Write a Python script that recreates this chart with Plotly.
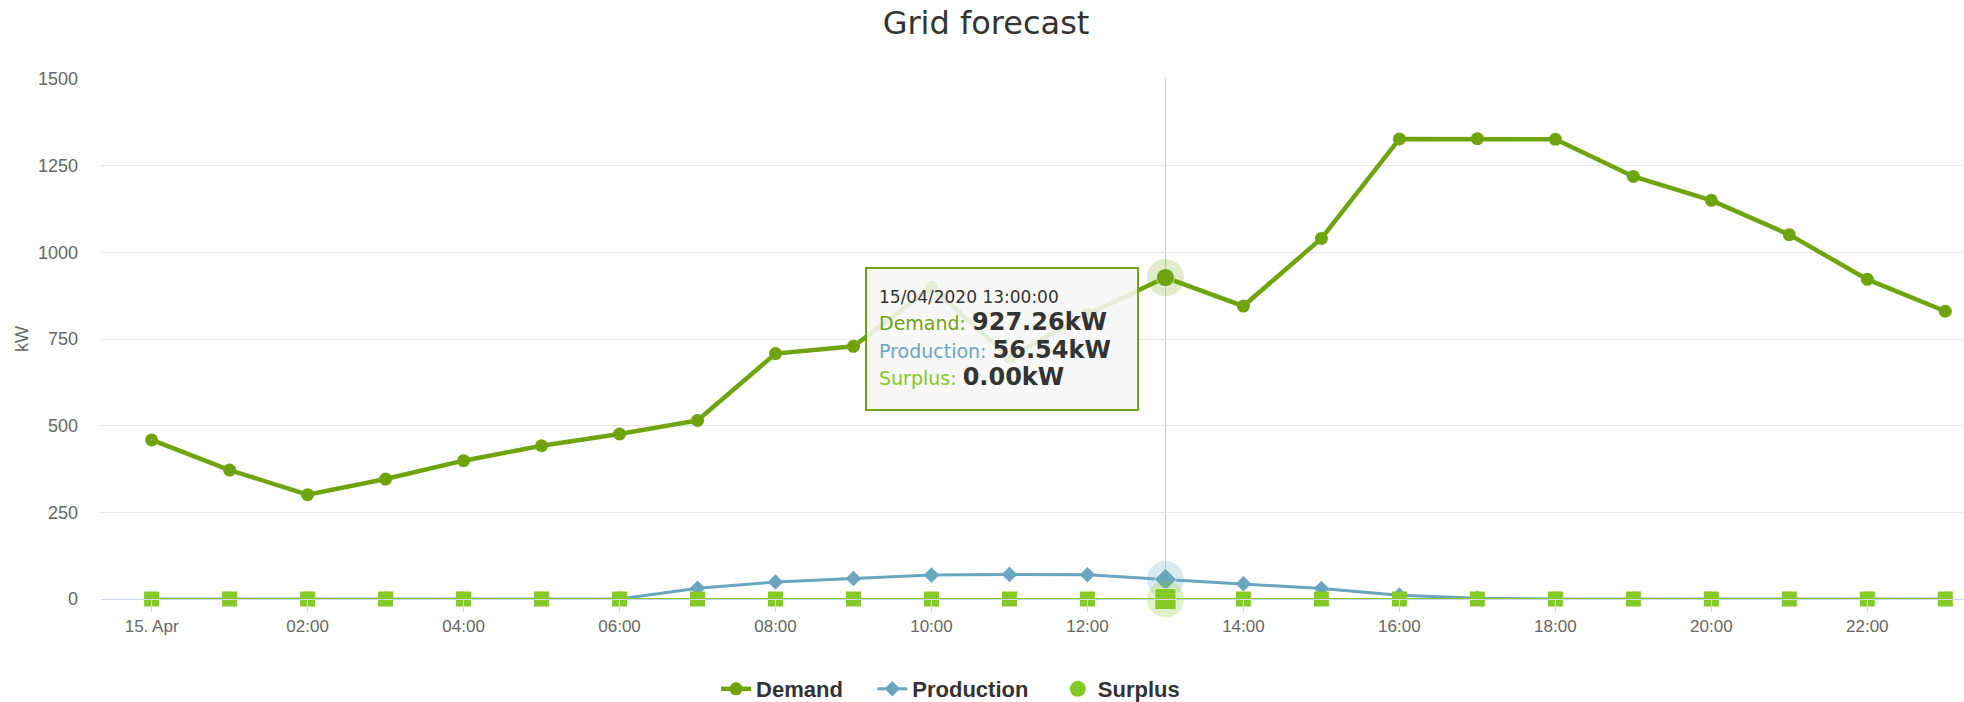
import plotly.graph_objects as go

# ---------------- data ----------------
hours = [0, 1, 2, 3, 4, 5, 6, 7, 8, 9, 10, 11, 12, 13, 14, 15, 16, 17, 18, 19, 20, 21, 22, 23]
demand = [459, 372, 301, 346, 399, 442, 476, 515, 708, 729, 899, 697, 821, 927.26,
          845, 1040, 1327, 1328, 1326, 1219, 1150, 1051, 922, 830]
production = [0, 0, 0, 0, 0, 0, 0, 31, 49, 59, 69, 71, 70, 56.54,
              44, 30, 11, 2, 0, 0, 0, 0, 0, 0]
surplus = [0, 0, 0, 0, 0, 0, 0, 0, 0, 0, 0, 0, 0, 0, 0, 0, 0, 0, 0, 0, 0, 0, 0, 0]
x_tickvals = [0, 2, 4, 6, 8, 10, 12, 14, 16, 18, 20, 22]
x_ticktext = ["15. Apr", "02:00", "04:00", "06:00", "08:00", "10:00",
              "12:00", "14:00", "16:00", "18:00", "20:00", "22:00"]
y_tickvals = [0, 250, 500, 750, 1000, 1250, 1500]
hover_index = 13
hover_label = "15/04/2020 13:00:00"

# ---------------- style ----------------
DEMAND = "#70a40e"
PROD = "#6ba6c1"
SURPLUS = "#84c925"
TICKFONT = "Liberation Sans Narrow, Liberation Sans, Arial, sans-serif"
PAD = "\u00a0" * 4

fig = go.Figure()

# crosshair at hovered x
hx = hours[hover_index]
fig.add_shape(type="line", xref="x", yref="paper", x0=hx, x1=hx, y0=0, y1=1,
              line=dict(color="#c8c8c8", width=1), layer="below")

fig.add_trace(go.Scatter(x=hours, y=demand, name="Demand" + PAD, mode="lines+markers",
                         line=dict(color=DEMAND, width=4.5),
                         marker=dict(symbol="circle", size=13, color=DEMAND),
                         cliponaxis=False))
fig.add_trace(go.Scatter(x=hours, y=production, name="Production" + PAD, mode="lines+markers",
                         line=dict(color=PROD, width=3),
                         marker=dict(symbol="diamond", size=12, color=PROD),
                         cliponaxis=False))
fig.add_trace(go.Scatter(x=hours, y=surplus, name="Surplus", mode="lines+markers",
                         line=dict(color=SURPLUS, width=2),
                         marker=dict(symbol="square", size=15, color=SURPLUS),
                         showlegend=False, cliponaxis=False))
# legend entry for Surplus (circle symbol only)
fig.add_trace(go.Scatter(x=[None], y=[None], name="Surplus", mode="markers",
                         marker=dict(symbol="circle", size=20, color=SURPLUS)))

# hover halos + enlarged hovered markers
for vals, col, halo, sym, sz in [
    (demand, DEMAND, "rgba(112,164,14,0.22)", "circle", 18),
    (production, PROD, "rgba(107,166,193,0.25)", "diamond", 17),
    (surplus, SURPLUS, "rgba(132,201,37,0.25)", "square", 21),
]:
    fig.add_trace(go.Scatter(x=[hours[hover_index]], y=[vals[hover_index]], mode="markers",
                             marker=dict(symbol="circle", size=37, color=halo),
                             showlegend=False, cliponaxis=False, hoverinfo="skip"))
    fig.add_trace(go.Scatter(x=[hours[hover_index]], y=[vals[hover_index]], mode="markers",
                             marker=dict(symbol=sym, size=sz, color=col,
                                         line=dict(color="rgba(255,255,255,0.6)", width=1)),
                             showlegend=False, cliponaxis=False, hoverinfo="skip"))

# tooltip
VAL = "font-size:24px;font-weight:bold;color:#333333"
LAB = "font-size:19px;color:"
tip = (f"<span style='font-size:17px;color:#333333'>{hover_label}</span><br>"
       f"<span style='{LAB}{DEMAND}'>Demand: </span>"
       f"<span style='{VAL}'>{demand[hover_index]:.2f}kW</span><br>"
       f"<span style='{LAB}{PROD}'>Production: </span>"
       f"<span style='{VAL}'>{production[hover_index]:.2f}kW</span><br>"
       f"<span style='{LAB}{SURPLUS}'>Surplus: </span>"
       f"<span style='{VAL}'>{surplus[hover_index]:.2f}kW</span>")
fig.add_annotation(x=hours[hover_index], y=demand[hover_index], xref="x", yref="y",
                   text=tip, showarrow=True, arrowcolor="rgba(0,0,0,0)", arrowwidth=0.1,
                   ax=-163, ay=61, align="left", valign="middle",
                   width=246, height=116, borderpad=12,
                   bgcolor="rgba(247,247,247,0.86)", bordercolor=DEMAND, borderwidth=2,
                   font=dict(family="DejaVu Sans", size=21, color="#333333"))

fig.update_layout(
    width=1964, height=702,
    margin=dict(l=101, r=0, t=79, b=103),
    paper_bgcolor="white", plot_bgcolor="white",
    title=dict(text="Grid forecast", x=986 / 1964, xref="container", xanchor="center",
               y=1 - 23 / 702, yref="container", yanchor="middle",
               font=dict(family="DejaVu Sans", size=32, color="#333333")),
    showlegend=True,
    legend=dict(orientation="h", x=0.456, xanchor="center",
                y=1 - 689 / 702, yref="container", yanchor="middle",
                font=dict(family="Liberation Sans, Arial", size=22, color="#333333",
                          weight="bold"),
                bgcolor="rgba(0,0,0,0)"),
    hovermode=False,
)
fig.update_xaxes(range=[-0.649, 23.24], tickvals=x_tickvals, ticktext=x_ticktext,
                 showgrid=False, zeroline=False, showline=True, linecolor="#ccd6eb",
                 linewidth=1, ticks="outside", ticklen=12, tickcolor="#ccd6eb",
                 tickfont=dict(family=TICKFONT, size=17, color="#666666"))
fig.update_yaxes(range=[0, 1500], tickvals=y_tickvals, showgrid=True, gridcolor="#e6e6e6",
                 gridwidth=1, zeroline=False, showline=False, ticks="",
                 ticklabelstandoff=22,
                 tickfont=dict(family=TICKFONT, size=18, color="#666666"),
                 title=dict(text="kW", standoff=4,
                            font=dict(family=TICKFONT, size=18, color="#666666")))

fig.write_html("out.html")
